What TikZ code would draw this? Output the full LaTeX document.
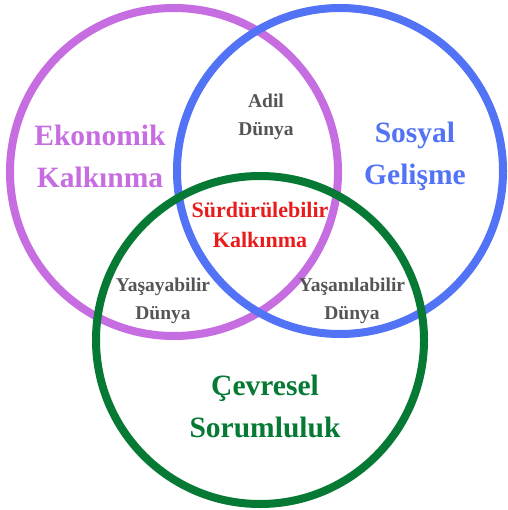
\documentclass[tikz,border=0pt]{standalone}
\usepackage{fontspec}
\setmainfont{Liberation Serif}
\definecolor{cpurple}{HTML}{C66DE2}
\definecolor{cblue}{HTML}{5273F5}
\definecolor{cgreen}{HTML}{067A34}
\definecolor{cred}{HTML}{E81C1C}
\definecolor{cgray}{HTML}{555555}
\begin{document}
\begin{tikzpicture}[x=1pt,y=-1pt,
  ring/.style={line width=8pt},
  big/.style={font=\fontsize{29.5}{42}\selectfont\bfseries, align=center, inner sep=0pt},
  mid/.style={font=\fontsize{22}{30}\selectfont\bfseries, align=center, inner sep=0pt},
  small/.style={font=\fontsize{19.5}{28}\selectfont\bfseries, align=center, inner sep=0pt, text=cgray}]
\useasboundingbox[fill=white] (0,0) rectangle (507,510);
\coordinate (cp) at (174,172);
\coordinate (cb) at (340,171);
\coordinate (cg) at (260,340);
\draw[ring, cpurple] (cp) circle[radius=164];
\draw[ring, cblue] (cb) circle[radius=163];
\draw[ring, cgreen] (cg) circle[radius=164];
\node[big, text=cpurple] (eko) at (100,156) {Ekonomik\\Kalkınma};
\node[big, text=cblue] (sos) at (415,156) {Sosyal\\Gelişme};
\node[big, text=cgreen] (cev) at (265,406) {Çevresel\\Sorumluluk};
\node[mid, text=cred] (sur) at (260,225) {Sürdürülebilir\\Kalkınma};
\node[small] (adil) at (266,117) {Adil\\Dünya};
\node[small] (yas) at (163,301) {Yaşayabilir\\Dünya};
\node[small] (yan) at (352,301) {Yaşanılabilir\\Dünya};
\end{tikzpicture}
\end{document}
